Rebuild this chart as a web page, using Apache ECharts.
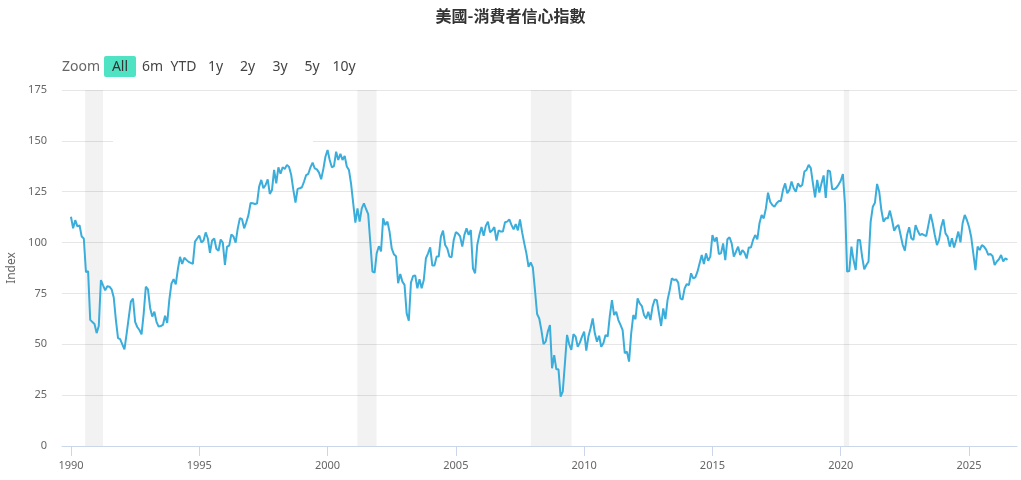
<!DOCTYPE html>
<html>
<head>
<meta charset="utf-8">
<title>美國-消費者信心指數</title>
<script src="https://cdn.jsdelivr.net/npm/echarts@6.0.0/dist/echarts.min.js"></script>
<style>
html, body { margin: 0; padding: 0; background: #fff; }
#chart-box { width: 1021px; height: 480px; }
</style>
</head>
<body>
<div id="chart-box"></div>
<script>
// 每月數值，由 1990 年 1 月開始
var y1990 = [112.7, 107, 111, 108, 108.5, 103, 102, 85.5, 86, 62, 61, 60];
var y1991 = [55.5, 59, 81.6, 79, 76.5, 78.5, 78.3, 77, 73, 62, 53, 52.5];
var y1992 = [50, 47.5, 55, 63, 71, 72.5, 61, 58.5, 57, 54.9, 65, 78.3];
var y1993 = [77, 68, 63.6, 66, 61, 58.7, 59, 59.5, 64, 60.5, 72, 79.9];
var y1994 = [82, 79.5, 87, 93, 89.5, 92.5, 91.5, 90.5, 90, 89.5, 100.5, 102];
var y1995 = [103.5, 100, 101, 105, 102, 95, 101, 102, 97, 96, 101.5, 100];
var y1996 = [89, 98, 98.5, 104, 103, 100, 107, 112, 111.5, 107, 110, 113.5];
var y1997 = [119.5, 119.3, 119, 119.2, 127.5, 130.8, 126.7, 128.3, 131.1, 123.9, 125.8, 135.7];
var y1998 = [129.1, 137, 133.8, 137, 136.2, 138.2, 137.2, 133.2, 125.9, 119.6, 126.4, 126.7];
var y1999 = [127.2, 130, 133.2, 133.8, 137, 139.3, 136.5, 136, 134.4, 131.1, 136, 142.2];
var y2000 = [145.5, 140.6, 137, 137.6, 144.7, 140.6, 143.6, 140.6, 142.6, 137.4, 135.7, 128.8];
var y2001 = [119.3, 109.8, 116.8, 110.3, 116.8, 119.3, 116.5, 114, 100, 85.7, 85.2, 94.9];
var y2002 = [98.2, 95.7, 111.9, 108.6, 110.3, 105.3, 97.1, 94.3, 93.3, 80, 84.6, 80.8];
var y2003 = [79.2, 65.2, 61.6, 80.3, 83.6, 83.8, 77.5, 82, 77.5, 81.6, 92.3, 94.7];
var y2004 = [97.6, 88.7, 88.7, 93.1, 93.1, 102.9, 105.9, 98.8, 97.1, 93.1, 92.8, 101.3];
var y2005 = [105.1, 104.4, 103, 98, 103.8, 107, 103.8, 106.2, 87.3, 84.9, 98.8, 103.8];
var y2006 = [107.6, 103.3, 108.2, 110.3, 105, 106, 107.6, 101, 106, 105.4, 105.4, 110];
var y2007 = [110.3, 111.4, 108.7, 106.5, 109.1, 106, 111.4, 105, 99.6, 94.7, 88.1, 90.2];
var y2008 = [87.8, 76.7, 64.9, 62.7, 57, 50.1, 51.3, 56.2, 59.5, 38.2, 44.7, 37.7];
var y2009 = [37.7, 24.3, 26.7, 40.6, 54.6, 50.1, 47.2, 55, 53.8, 48.8, 50.8, 53.8];
var y2010 = [56.2, 46.9, 53.8, 57.9, 62.7, 55.4, 51.3, 54.2, 48.8, 50.5, 54.6, 53.8];
var y2011 = [64, 71.7, 64.4, 66, 61.9, 59.5, 57, 45.6, 46.4, 41.5, 55.4, 64.4];
var y2012 = [62.3, 72.6, 70.1, 68.8, 64.4, 62.7, 66, 61.9, 68.5, 72, 71.7, 65.2];
var y2013 = [59, 67.6, 62.4, 71.7, 76.6, 82.4, 81.6, 81.9, 80.3, 72.6, 72, 77.5];
var y2014 = [79.6, 79.1, 84.9, 82.4, 82.9, 85.7, 89.8, 93.9, 89.5, 94.7, 91.1, 93.1];
var y2015 = [103.7, 100.5, 102.6, 94.4, 94.7, 99.6, 91.4, 101.6, 102.6, 99.6, 93.1, 95.5];
var y2016 = [98, 93.9, 96.3, 95, 92.2, 97.6, 97.6, 101.3, 103.7, 101.6, 109.5, 113.6];
var y2017 = [111.9, 116.8, 124.5, 120.1, 118.5, 117.6, 119.3, 120.4, 120.4, 125.9, 129.1, 124.2];
var y2018 = [125.9, 130, 126.7, 125, 129.1, 127.5, 128.3, 134.9, 135.7, 138.2, 136.6, 129.1];
var y2019 = [122.2, 130.8, 124.6, 129.1, 133, 122, 135.5, 135, 126.3, 126.2, 127, 128.5];
var y2020 = [130.4, 133.7, 118.8, 85.7, 86, 98, 91.4, 86.5, 101.3, 101.3, 93.1, 86.9];
var y2021 = [89, 90.7, 110.3, 117.6, 119.6, 128.8, 125, 116, 110.3, 111.9, 111.9, 115.7];
var y2022 = [111.1, 105.8, 107.8, 108.6, 103.7, 98.8, 96, 103.7, 107.5, 102.1, 101.3, 108.6];
var y2023 = [105.8, 103.7, 104.2, 103.7, 103.2, 108.6, 114, 109.5, 103.7, 98.8, 101.3, 107.8];
var y2024 = [111.4, 104.5, 102.9, 98, 102.1, 97.6, 101.3, 105.4, 100.1, 109.5, 113.6, 111.1];
var y2025 = [107.8, 102.9, 94.7, 86.5, 98, 96.3, 98.8, 98, 96.5, 94, 94.4, 93.4];
var y2026 = [89, 90.7, 91.8, 93.9, 90.7, 92.3, 91.5];

// 衰退期 (年份小數)
var recessions = [[1990.55, 1991.25], [2001.16, 2001.91], [2007.92, 2009.51], [2020.12, 2020.33]];
var yearTicks = [1990, 1995, 2000, 2005, 2010, 2015, 2020, 2025];
var rangeButtons = ['6m', 'YTD', '1y', '2y', '3y', '5y', '10y'];
var buttonX = [152.5, 183.5, 215.5, 247.5, 280, 312, 344];

var monthly = [].concat(y1990, y1991, y1992, y1993, y1994, y1995, y1996, y1997, y1998, y1999,
    y2000, y2001, y2002, y2003, y2004, y2005, y2006, y2007, y2008, y2009,
    y2010, y2011, y2012, y2013, y2014, y2015, y2016, y2017, y2018, y2019,
    y2020, y2021, y2022, y2023, y2024, y2025, y2026);

var seriesData = monthly.map(function(v, i) {
    return [1990 + i / 12, v];
});

var font = 'Noto Sans, sans-serif';

var graphics = [
    // 150 格線上的白色遮罩
    { type: 'rect', z: 1, silent: true, shape: { x: 113, y: 131, width: 200, height: 19 }, style: { fill: '#fff' } },
    { type: 'text', x: 62, y: 67, style: { text: 'Zoom', fill: '#666', font: '14px ' + font, verticalAlign: 'middle' } },
    { type: 'rect', shape: { x: 104, y: 56, width: 32, height: 21, r: 2 }, style: { fill: '#4fe3c3' } },
    { type: 'text', x: 120, y: 67, style: { text: 'All', fill: '#333', font: '14px ' + font, align: 'center', verticalAlign: 'middle' } }
];
rangeButtons.forEach(function(b, i) {
    graphics.push({ type: 'text', x: buttonX[i], y: 67,
        style: { text: b, fill: '#444', font: '14px ' + font, align: 'center', verticalAlign: 'middle' } });
});

var myChart = echarts.init(document.getElementById('chart-box'));

var option = {
    animation: false,
    title: {
        text: '美國-消費者信心指數',
        left: 'center',
        top: 3,
        textStyle: {
            fontSize: 16,
            fontWeight: 'bold',
            color: '#333',
            fontFamily: 'Noto Sans CJK TC'
        }
    },
    grid: { left: 62, right: 4, top: 90, bottom: 34, outerBoundsMode: 'none' },
    graphic: graphics,
    xAxis: {
        type: 'value',
        min: 1989.65,
        max: 2026.87,
        axisLine: { lineStyle: { color: '#ccd6eb' } },
        axisTick: { customValues: yearTicks, length: 10, lineStyle: { color: '#ccd6eb' } },
        axisLabel: {
            customValues: yearTicks,
            color: '#666',
            fontSize: 11,
            fontFamily: font,
            margin: 14,
            formatter: function(v) { return String(Math.round(v)); }
        },
        splitLine: { show: false }
    },
    yAxis: {
        type: 'value',
        min: 0,
        max: 175,
        interval: 25,
        name: 'Index',
        nameLocation: 'middle',
        nameGap: 42,
        nameTextStyle: { color: '#666', fontSize: 12, fontFamily: font },
        axisLine: { show: false },
        axisTick: { show: false },
        axisLabel: { color: '#666', fontSize: 11, fontFamily: font, margin: 15 },
        splitLine: { lineStyle: { color: '#e6e6e6' } }
    },
    series: [{
        name: 'Index',
        type: 'line',
        data: seriesData,
        showSymbol: false,
        lineStyle: { color: '#3aaddb', width: 2 },
        itemStyle: { color: '#3aaddb' },
        markArea: {
            silent: true,
            itemStyle: { color: 'rgba(0,0,0,0.05)' },
            data: recessions.map(function(r) {
                return [{ xAxis: r[0] }, { xAxis: r[1] }];
            })
        }
    }]
};

myChart.setOption(option);
</script>
</body>
</html>
